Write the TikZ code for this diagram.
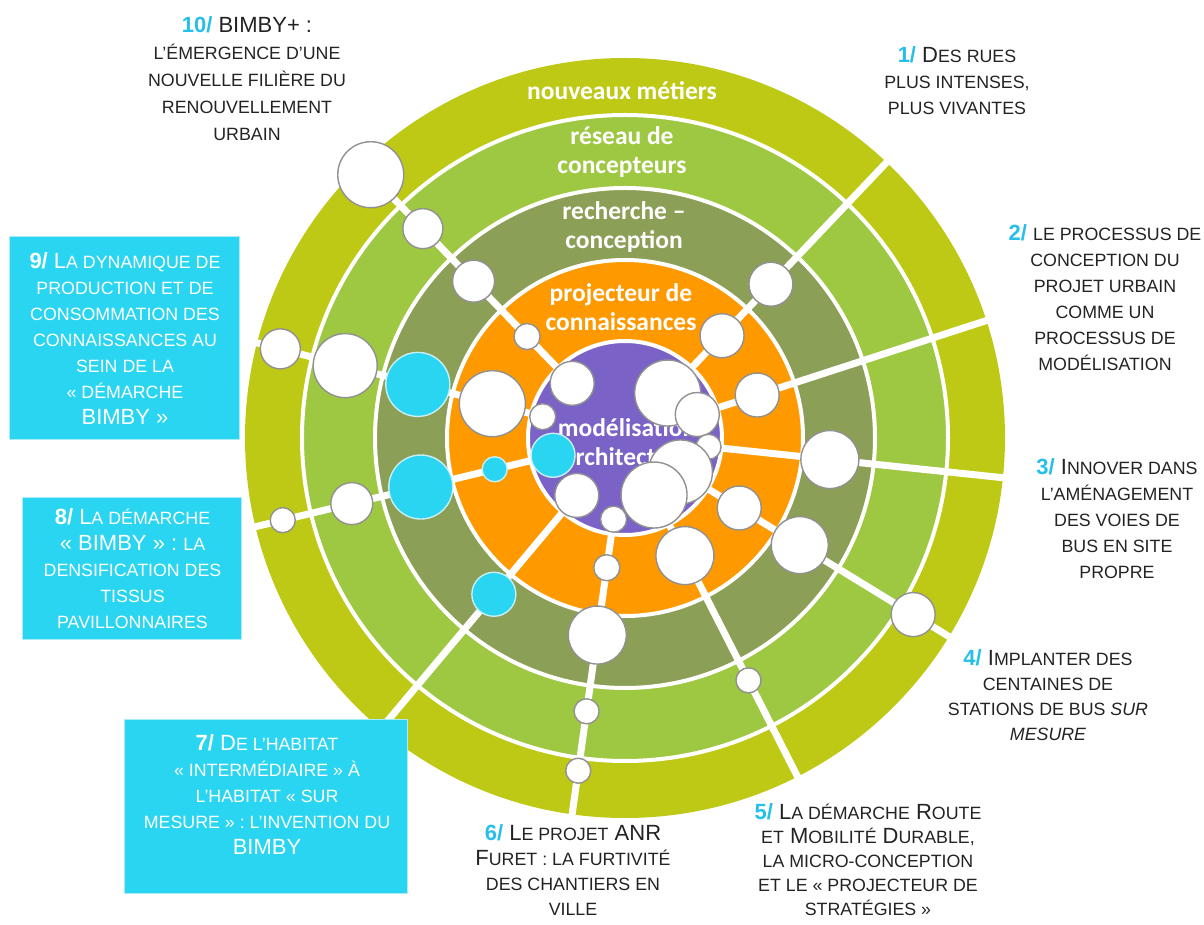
\documentclass[tikz,border=0pt]{standalone}
\usepackage{fontspec}
\setmainfont{Liberation Sans}
\newfontfamily\ringfont{Carlito}

\definecolor{metiers}{RGB}{190,201,22}
\definecolor{reseau}{RGB}{158,200,66}
\definecolor{recherche}{RGB}{139,159,86}
\definecolor{projo}{RGB}{255,153,0}
\definecolor{modele}{RGB}{123,98,198}
\definecolor{bimbycyan}{RGB}{41,213,240}
\definecolor{numcyan}{RGB}{38,190,235}
\definecolor{bubline}{RGB}{145,145,145}
\definecolor{cbubline}{RGB}{200,238,246}
\definecolor{cboxline}{RGB}{170,235,248}
\definecolor{labtext}{RGB}{35,35,35}

\newcommand\smc[1]{{\fontsize{17.8}{26}\selectfont #1}}
\newcommand\lnum[1]{{\bfseries\color{numcyan}#1}}

\begin{document}
\begin{tikzpicture}[
            x = 1pt, y = 1pt,
            ringsep/.style = {draw=white, line width=4pt},
            spoke/.style   = {draw=white, line width=7pt},
            ringlabel/.style = {
                text      = white,
                align     = center,
                inner sep = 0pt,
                font      = \ringfont\bfseries\fontsize{25.5}{29}\selectfont
            },
            bub/.style = {
                circle,
                inner sep  = 0pt,
                fill       = white,
                draw       = bubline,
                line width = 1.4pt
            },
            cbub/.style = {bub, fill=bimbycyan, draw=cbubline},
            lbl/.style = {
                align     = center,
                text      = labtext,
                inner sep = 0pt,
                font      = \fontsize{22}{26}\selectfont
            },
            cbox/.style = {
                rectangle,
                fill       = bimbycyan,
                draw       = cboxline,
                line width = 1pt,
                text       = white,
                align      = center,
                font       = \fontsize{22}{26}\selectfont
            }
        ]

            \useasboundingbox (-625,-487) rectangle (579,438);

            % rings
            \fill[metiers] (0,0) circle (380);
            \filldraw[fill=reseau, ringsep]    (0,0) circle (323);
            \filldraw[fill=recherche, ringsep] (0,0) circle (250);
            \filldraw[fill=projo, ringsep]     (0,0) circle (178);

            % spokes
            \foreach \i/\a in {1/46.5, 2/18, 3/354, 4/328.5, 5/297,
                               6/262, 7/230, 8/193.5, 9/165.5, 10/134} {
                \coordinate (in\i)  at (\a:97);
                \coordinate (out\i) at (\a:392);
                \draw[spoke] (in\i) -- (out\i);
            }

            \filldraw[fill=modele, ringsep] (0,0) circle (97);

            % ring labels
            \node[ringlabel] (metiersl)   at (-3,347)    {nouveaux métiers};
            \node[ringlabel] (reseaul)    at (-3,285.5)  {réseau de\\concepteurs};
            \node[ringlabel] (recherchel) at (-1,210.5)  {recherche –\\conception};
            \node[ringlabel] (projol)     at (-4,130.5)  {projecteur de\\connaissances};
            \node[ringlabel] (modelel)    at (2,-4.5)    {modélisation\\architecture};

            % bubbles
            \foreach \n/\a/\d/\s in {
                s1a/46.5/212/44, s1b/46.5/141/44, s1c/46.5/62/66,
                s2a/18/139/44, s2b/18/76/44,
                s3a/354/206/58, s3b/354/84/25,
                s4a/328.5/338/44, s4b/328.5/205/57, s4c/328.5/134/44, s4d/328.5/65/64,
                s5a/297/272/25, s5b/297/132/58, s5c/297/64/66,
                s6a/262/336/25, s6b/262/276/25, s6c/262/199/58, s6d/262/131/26, s6e/262/82/26,
                s7b/230/75/44,
                s8a/193.5/352/25, s8b/193.5/281/42,
                s9a/165.5/356/40, s9b/165.5/289/64, s9d/165.5/137/66, s9e/165.5/85/26,
                s10a/134/366/66, s10b/134/291/40, s10c/134/218/42, s10d/134/141/26, s10e/134/76/44}
                \node[bub, minimum size=\s pt] (\n) at (\a:\d) {};
            \foreach \n/\a/\d/\s in {
                s7a/230/204/44, s8c/193.5/210/64, s8d/193.5/134/25,
                s8e/193.5/74/44, s9c/165.5/214/64}
                \node[cbub, minimum size=\s pt] (\n) at (\a:\d) {};

            % outer labels
            \node[lbl, font=\fontsize{22}{27}\selectfont] (t10) at (-378,359) {
                \lnum{10/} BIMBY+ :\\ \smc{L’ÉMERGENCE D’UNE}\\ \smc{NOUVELLE FILIÈRE DU}\\
                \smc{RENOUVELLEMENT}\\ \smc{URBAIN}
            };
            \node[lbl] (t1) at (332,357) {
                \lnum{1/} D\smc{ES RUES}\\ \smc{PLUS INTENSES,}\\ \smc{PLUS VIVANTES}
            };
            \node[lbl] (t2) at (480,140) {
                \lnum{2/} \smc{LE PROCESSUS DE}\\ \smc{CONCEPTION DU}\\ \smc{PROJET URBAIN}\\
                \smc{COMME UN}\\ \smc{PROCESSUS DE}\\ \smc{MODÉLISATION}
            };
            \node[lbl] (t3) at (492,-80.5) {
                \lnum{3/} I\smc{NNOVER DANS}\\ \smc{L’AMÉNAGEMENT}\\ \smc{DES VOIES DE}\\
                \smc{BUS EN SITE}\\ \smc{PROPRE}
            };
            \node[lbl, font=\fontsize{22}{25}\selectfont] (t4) at (423,-257) {
                \lnum{4/} I\smc{MPLANTER DES}\\ \smc{CENTAINES DE}\\
                \smc{STATIONS DE BUS \itshape SUR}\\ \smc{\itshape MESURE}
            };
            \node[lbl, font=\fontsize{22}{24}\selectfont] (t5) at (243,-422) {
                \lnum{5/} L\smc{A DÉMARCHE} R\smc{OUTE}\\ \smc{ET} M\smc{OBILITÉ} D\smc{URABLE,}\\
                \smc{LA MICRO-CONCEPTION}\\ \smc{ET LE « PROJECTEUR DE}\\ \smc{STRATÉGIES »}
            };
            \node[lbl, font=\fontsize{22}{25}\selectfont] (t6) at (-52,-432.5) {
                \lnum{6/} L\smc{E PROJET} ANR\\ F\smc{URET : LA FURTIVITÉ}\\
                \smc{DES CHANTIERS EN}\\ \smc{VILLE}
            };

            % boxes
            \node[cbox, minimum width=230pt, minimum height=203pt] (box9) at (-500,99.5) {
                \textbf{9/} L\smc{A DYNAMIQUE DE}\\ \smc{PRODUCTION ET DE}\\
                \smc{CONSOMMATION DES}\\ \smc{CONNAISSANCES AU}\\ \smc{SEIN DE LA}\\
                \smc{« DÉMARCHE}\\ BIMBY »
            };
            \node[cbox, minimum width=219pt, minimum height=142pt] (box8) at (-492.5,-131) {
                \textbf{8/} L\smc{A DÉMARCHE}\\ « BIMBY » : \smc{LA}\\ \smc{DENSIFICATION DES}\\
                \smc{TISSUS}\\ \smc{PAVILLONNAIRES}
            };
            \node[cbox, minimum width=283pt, minimum height=174pt] (box7) at (-358.5,-368) {};
            \node[lbl, text=white] (t7) at (-358,-356.5) {
                \textbf{7/} D\smc{E L’HABITAT}\\ \smc{« INTERMÉDIAIRE » À}\\ \smc{L’HABITAT « SUR}\\
                \smc{MESURE » : L’INVENTION DU}\\ BIMBY
            };
        \end{tikzpicture}
\end{document}
